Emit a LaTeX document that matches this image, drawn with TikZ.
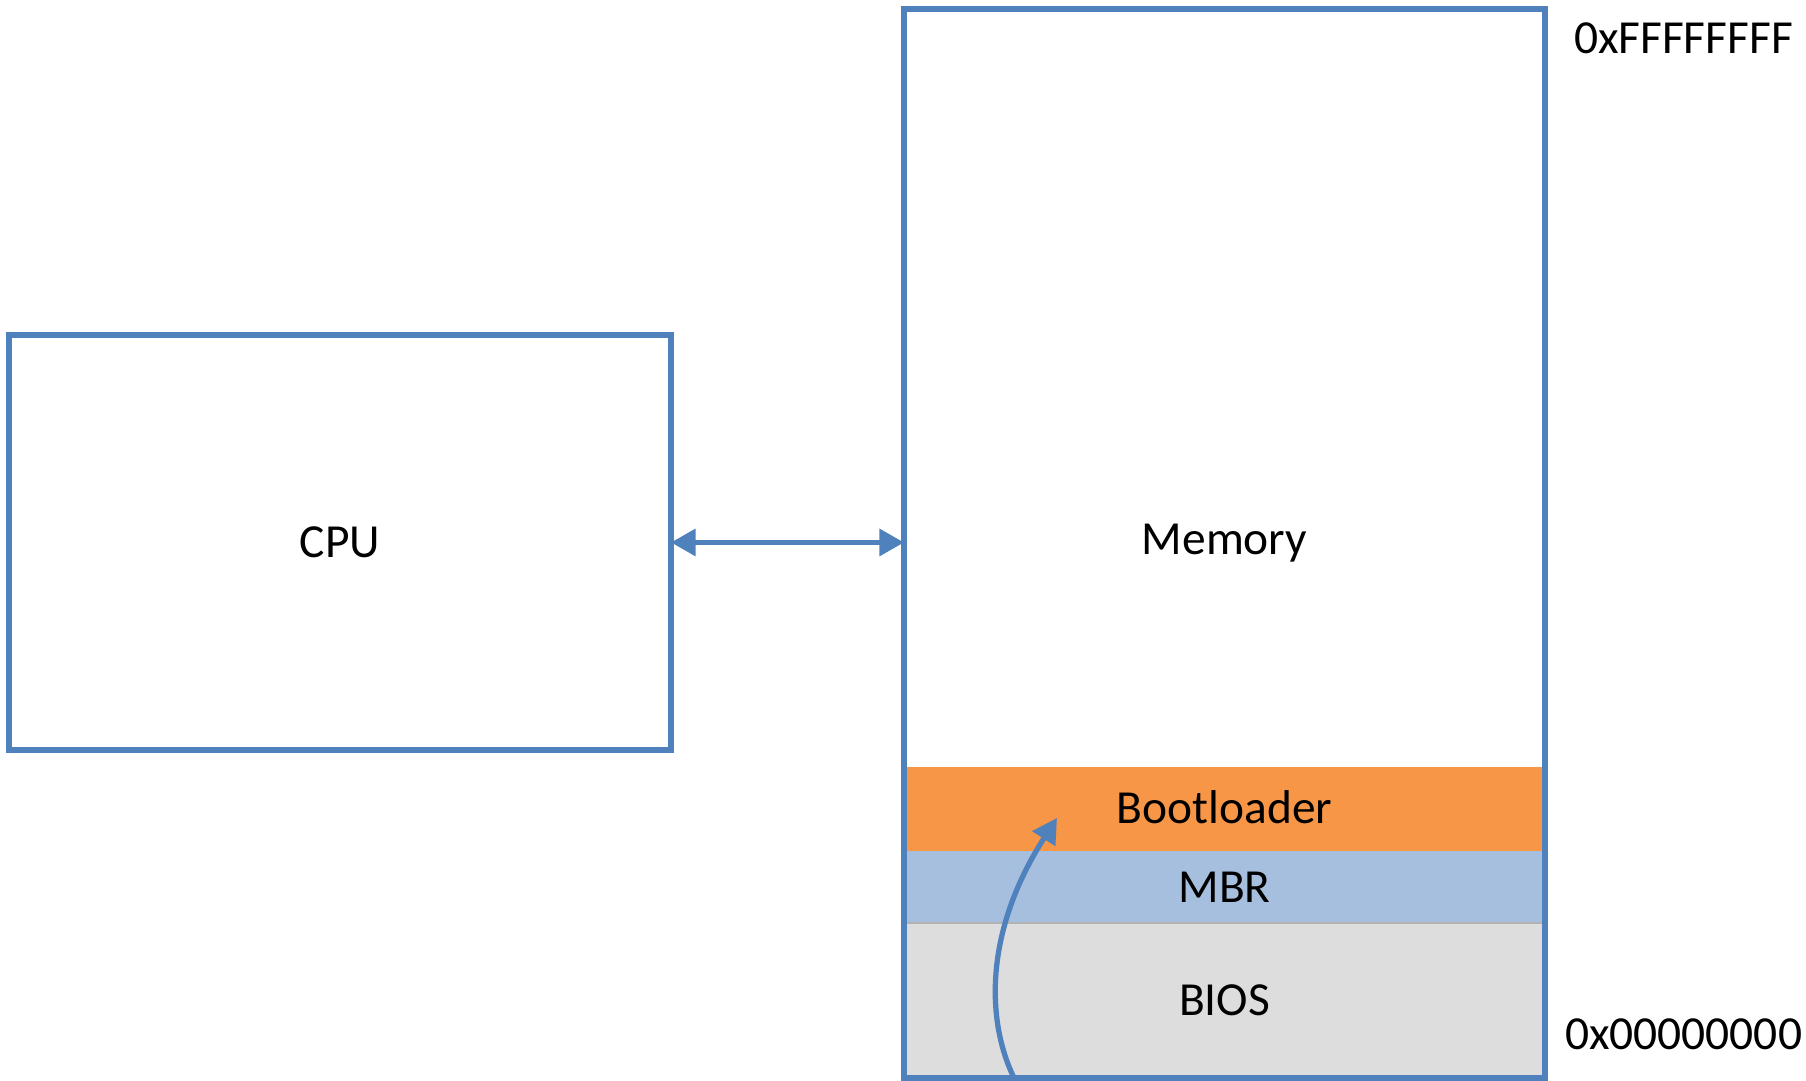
\documentclass[tikz,border=0pt]{standalone}
\usepackage{fontspec}
\setmainfont{Carlito}
\usetikzlibrary{arrows.meta}
\definecolor{boxblue}{RGB}{79,129,189}
\definecolor{bootorange}{RGB}{247,150,70}
\definecolor{mbrblue}{RGB}{167,191,222}
\definecolor{biosgray}{RGB}{221,221,221}
\tikzset{
  unit/.style={draw=boxblue, line width=1.6pt, inner sep=0pt, outer sep=0pt},
  layer/.style={inner sep=0pt, outer sep=0pt, minimum width=6.41cm},
  bus/.style={boxblue, line width=1.5pt, {Triangle[length=7pt,width=7.5pt]}-{Triangle[length=7pt,width=7.5pt]}},
  load/.style={boxblue, line width=1.5pt, -{Triangle[length=7pt,width=7.5pt]}}
}
\begin{document}
\begin{tikzpicture}[font=\fontsize{13.5}{16}\selectfont]
\useasboundingbox (0,0) rectangle (18.06,10.81);

% Memory layers
\node[layer, fill=bootorange, minimum height=0.84cm] (boot) at (12.245,2.72) {\raisebox{1pt}{Bootloader}};
\node[layer, fill=mbrblue, minimum height=0.72cm] (mbr) at (12.245,1.94) {MBR};
\node[layer, fill=biosgray, minimum height=1.55cm] (bios) at (12.245,0.805) {BIOS};
\draw[gray!60] (bios.north west) -- (bios.north east);

% Boxes
\node[unit, minimum width=6.62cm, minimum height=4.15cm] (cpu) at (3.40,5.385) {CPU};
\node[unit, minimum width=6.41cm, minimum height=10.69cm] (mem) at (12.245,5.375) {Memory};

% Address labels
\node (top) at (16.835,10.43) {0xFFFFFFFF};
\node (bottom) at (16.835,0.47) {0x00000000};

% Bus
\draw[bus] (cpu.east) -- (cpu.east -| mem.west);

% Load
\coordinate (biosstart) at (10.15,0.01);
\coordinate (bootentry) at (10.57,2.63);
\draw[load] (biosstart) .. controls (9.85,0.61) and (9.85,1.51) .. (bootentry);
\end{tikzpicture}
\end{document}
